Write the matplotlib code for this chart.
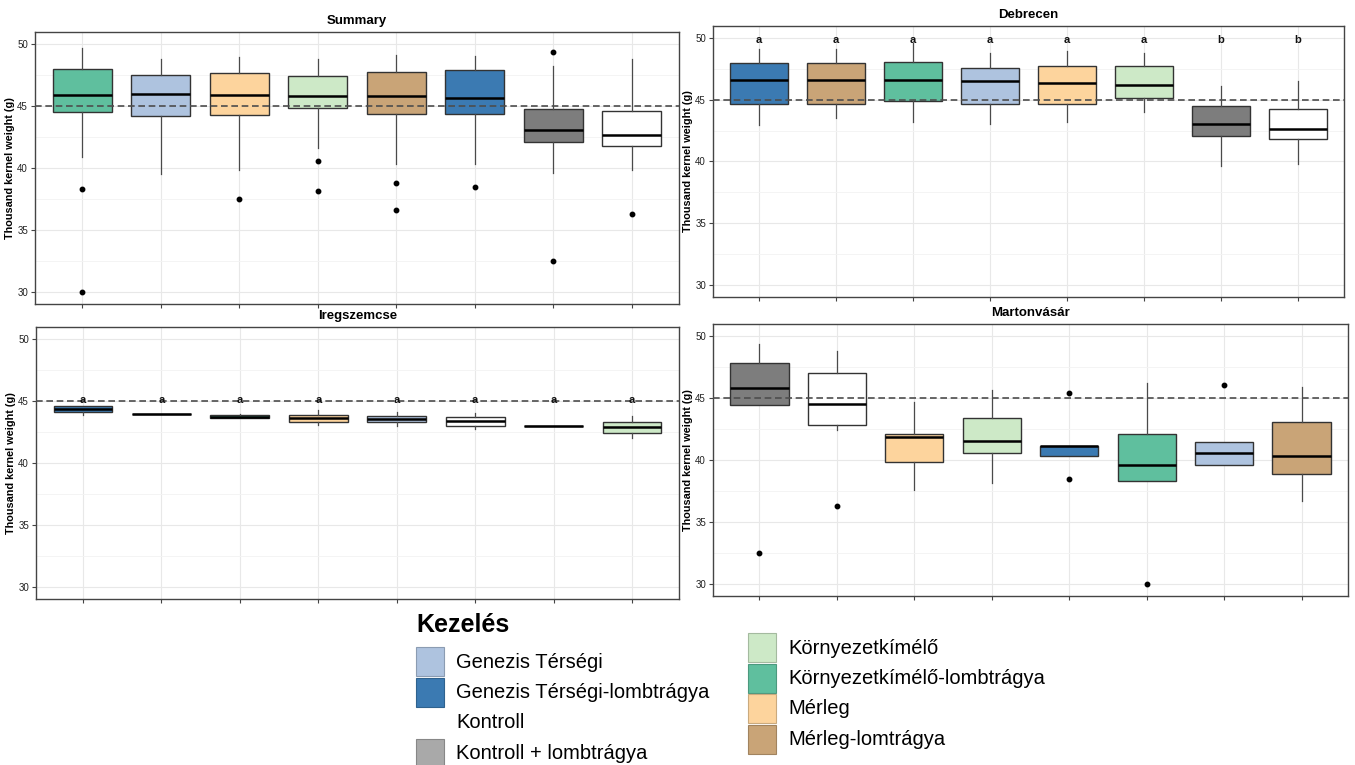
import matplotlib
matplotlib.use("Agg")
import matplotlib.pyplot as plt
from matplotlib.patches import Rectangle
from matplotlib.colors import to_rgb
from matplotlib.ticker import MultipleLocator

plt.rcParams['font.family'] = ['Liberation Sans', 'DejaVu Sans']

# Treatments (legend order) and their fills
treatments = ["Genezis Térségi", "Genezis Térségi-lombtrágya", "Kontroll",
              "Kontroll + lombtrágya", "Környezetkímélő",
              "Környezetkímélő-lombtrágya", "Mérleg", "Mérleg-lomtrágya"]
box_colors = ["#aec3df", "#3b7ab2", "#ffffff", "#7d7d7d",
              "#cde9c7", "#5fbf9e", "#fdd49d", "#c9a477"]
key_colors = ["#aec3df", "#3b7ab2", "#ffffff", "#a9a9a9",
              "#cde9c7", "#5fbf9e", "#fdd49d", "#c9a477"]
GT, GTL, K, KL, KK, KKL, M, ML = treatments

# ---- Summary ----
summary_order = [KKL, GT, M, KK, ML, GTL, KL, K]
summary_whislo = [40.9, 39.55, 39.8, 41.65, 40.3, 40.3, 39.6, 39.8]
summary_q1 = [44.55, 44.2, 44.25, 44.85, 44.35, 44.35, 42.1, 41.8]
summary_med = [45.9, 45.95, 45.9, 45.85, 45.85, 45.7, 43.05, 42.7]
summary_q3 = [48.0, 47.55, 47.65, 47.45, 47.8, 47.9, 44.75, 44.6]
summary_whishi = [49.7, 48.8, 48.95, 48.8, 49.1, 49.05, 48.25, 48.8]
summary_fliers = [[38.3, 30.0], [], [37.5], [40.6, 38.1], [38.8, 36.6],
                  [38.5], [49.4, 32.5], [36.3]]

# ---- Debrecen ----
debrecen_order = [GTL, ML, KKL, GT, M, KK, KL, K]
debrecen_whislo = [42.95, 43.55, 43.2, 43.05, 43.2, 44.05, 39.6, 39.8]
debrecen_q1 = [44.65, 44.7, 44.95, 44.65, 44.7, 45.15, 42.05, 41.8]
debrecen_med = [46.65, 46.6, 46.6, 46.5, 46.35, 46.2, 43.05, 42.65]
debrecen_q3 = [48.0, 48.0, 48.1, 47.6, 47.75, 47.75, 44.5, 44.3]
debrecen_whishi = [49.1, 49.1, 49.6, 48.8, 48.95, 48.8, 46.15, 46.55]
debrecen_fliers = [[], [], [], [], [], [], [], []]
debrecen_letters = ["a", "a", "a", "a", "a", "a", "b", "b"]

# ---- Iregszemcse ----
iregszemcse_order = [GTL, ML, KKL, M, GT, K, KL, KK]
iregszemcse_whislo = [43.9, 43.95, 43.6, 43.05, 43.0, 42.75, 42.98, 42.05]
iregszemcse_q1 = [44.1, 43.95, 43.65, 43.35, 43.3, 43.0, 42.98, 42.45]
iregszemcse_med = [44.4, 43.95, 43.75, 43.6, 43.55, 43.4, 42.98, 42.9]
iregszemcse_q3 = [44.65, 43.95, 43.85, 43.9, 43.8, 43.7, 42.98, 43.35]
iregszemcse_whishi = [44.65, 43.95, 43.95, 44.3, 44.1, 44.05, 42.98, 43.8]
iregszemcse_fliers = [[], [], [], [], [], [], [], []]
iregszemcse_letters = ["a"] * 8

# ---- Martonvásár ----
martonvasar_order = [KL, K, M, KK, GTL, KKL, GT, ML]
martonvasar_whislo = [44.45, 42.45, 37.55, 38.15, 40.35, 38.3, 39.6, 36.65]
martonvasar_q1 = [44.45, 42.85, 39.8, 40.6, 40.35, 38.3, 39.6, 38.85]
martonvasar_med = [45.8, 44.5, 41.9, 41.55, 41.1, 39.6, 40.6, 40.3]
martonvasar_q3 = [47.85, 47.05, 42.1, 43.4, 41.1, 42.1, 41.45, 43.05]
martonvasar_whishi = [49.4, 48.8, 44.7, 45.7, 41.1, 46.2, 41.45, 45.9]
martonvasar_fliers = [[32.5], [36.3], [], [], [45.4, 38.5], [30.0], [46.1], []]

reference_line = 45.0
y_label = "Thousand kernel weight (g)"

color_of = dict(zip(treatments, box_colors))

fig = plt.figure(figsize=(13.55, 7.65), dpi=100)
W, H = 1355.0, 765.0


def add_axes_px(left, top, right, bottom):
    return fig.add_axes([left / W, 1 - bottom / H, (right - left) / W, (bottom - top) / H])


def draw_panel(ax, title, order, whislo, q1, med, q3, whishi, fliers,
               letters=None, letter_y=None):
    stats = [dict(whislo=a, q1=b, med=c, q3=d, whishi=e, fliers=f)
             for a, b, c, d, e, f in zip(whislo, q1, med, q3, whishi, fliers)]
    pos = list(range(1, len(order) + 1))
    ax.grid(True, which='major', color='#e8e8e8', lw=0.8, zorder=0)
    ax.grid(True, which='minor', axis='y', color='#f3f3f3', lw=0.6, zorder=0)
    ax.set_axisbelow(True)
    bp = ax.bxp(stats, positions=pos, widths=0.75, patch_artist=True,
                showcaps=False,
                boxprops=dict(edgecolor='#333333', lw=1.0),
                medianprops=dict(color='black', lw=1.8, zorder=3.5),
                whiskerprops=dict(color='#4a4a4a', lw=0.9),
                flierprops=dict(marker='o', markerfacecolor='black',
                                markeredgecolor='black', markersize=3.2))
    for patch, name in zip(bp['boxes'], order):
        patch.set_facecolor(color_of[name])
    ax.axhline(reference_line, color='#4d4d4d', lw=1.2, ls=(0, (4, 2.2)), zorder=4)
    if letters is not None:
        for p, t in zip(pos, letters):
            ax.text(p, letter_y, t, ha='center', va='center', fontsize=8,
                    fontweight='bold', color='#111111', zorder=5)
    ax.set_xlim(0.4, len(order) + 0.6)
    ax.set_ylim(29.0, 51.0)
    ax.set_xticks(pos)
    ax.set_xticklabels([])
    ax.yaxis.set_major_locator(MultipleLocator(5))
    ax.yaxis.set_minor_locator(MultipleLocator(2.5))
    ax.tick_params(axis='y', which='minor', length=0)
    ax.tick_params(axis='both', which='major', length=3, color='#444444',
                   labelsize=7, labelcolor='#222222', width=0.8, pad=2)
    for s in ax.spines.values():
        s.set_color('#444444')
        s.set_linewidth(1.0)
    ax.set_title(title, fontsize=9.5, fontweight='bold', pad=6)
    ax.set_ylabel(y_label, fontsize=7.8, fontweight='bold')
    ax.yaxis.set_label_coords(-0.031, 0.5)


ax1 = add_axes_px(35, 32, 679, 304)
draw_panel(ax1, "Summary", summary_order, summary_whislo, summary_q1, summary_med,
           summary_q3, summary_whishi, summary_fliers)

ax2 = add_axes_px(713, 26, 1344, 297)
draw_panel(ax2, "Debrecen", debrecen_order, debrecen_whislo, debrecen_q1, debrecen_med,
           debrecen_q3, debrecen_whishi, debrecen_fliers,
           letters=debrecen_letters, letter_y=49.85)

ax3 = add_axes_px(36, 327, 679, 599)
draw_panel(ax3, "Iregszemcse", iregszemcse_order, iregszemcse_whislo, iregszemcse_q1,
           iregszemcse_med, iregszemcse_q3, iregszemcse_whishi, iregszemcse_fliers,
           letters=iregszemcse_letters, letter_y=45.1)

ax4 = add_axes_px(713, 324, 1348, 596)
draw_panel(ax4, "Martonvásár", martonvasar_order, martonvasar_whislo, martonvasar_q1,
           martonvasar_med, martonvasar_q3, martonvasar_whishi, martonvasar_fliers)


# Legend: title plus two columns of keys, laid out in figure pixels
def key_edge(c):
    r, g, b = to_rgb(c)
    return (r * 0.8, g * 0.8, b * 0.8)


fig.text(416 / W, 1 - 625 / H, "Kezelés", fontsize=18, fontweight='bold',
         ha='left', va='center')
columns = [(416, 456, 647, treatments[:4], key_colors[:4]),
           (748, 788, 633, treatments[4:], key_colors[4:])]
pitch = 30.5
for kx, tx, top, names, cols in columns:
    for i, (name, c) in enumerate(zip(names, cols)):
        y0 = top + i * pitch
        if c.lower() != "#ffffff":
            fig.add_artist(Rectangle((kx / W, 1 - (y0 + 29) / H), 28 / W, 29 / H,
                                     transform=fig.transFigure, facecolor=c,
                                     edgecolor=key_edge(c), lw=0.8))
        fig.text(tx / W, 1 - (y0 + 15) / H, name, fontsize=14.5,
                 ha='left', va='center')

fig.savefig("out.png", dpi=100)
